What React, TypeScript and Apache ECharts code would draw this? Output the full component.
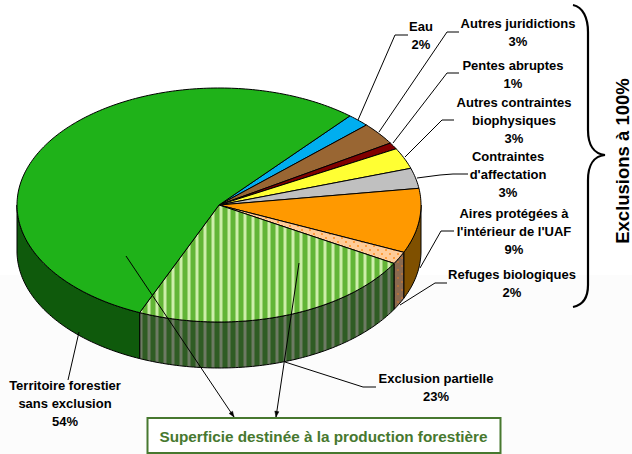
import React, { useEffect, useRef } from "react";
import * as echarts from "echarts";

// the printed labels are the rounded figures of the original.
const sliceNames = [
  "Eau",
  "Autres juridictions",
  "Pentes abruptes",
  "Autres contraintes biophysiques",
  "Contraintes d'affectation",
  "Aires protégées à l'intérieur de l'UAF",
  "Refuges biologiques",
  "Exclusion partielle",
  "Territoire forestier sans exclusion",
];
const sliceValues = [1.8, 3.1, 0.9, 2.9, 2.8, 8.9, 1.7, 23.1, 54.8];
const sliceLabels = [
  "Eau\n2%",
  "Autres juridictions\n3%",
  "Pentes abruptes\n1%",
  "Autres contraintes\nbiophysiques\n3%",
  "Contraintes\nd'affectation\n3%",
  "Aires protégées à\nl'intérieur de l'UAF\n9%",
  "Refuges biologiques\n2%",
  "Exclusion partielle\n23%",
  "Territoire forestier\nsans exclusion\n54%",
];
const boxTitle = "Superficie destinée à la production forestière";
const braceTitle = "Exclusions à 100%";

// Layout of labels and leaders, same order as the slices.
const labelCenters = [
  [421, 35], [518, 32], [513, 74.5], [514, 120.5], [508, 174.5], [514, 231.5], [512, 283.5], [436, 387.5], [65, 403],
];
const leaderPaths = [
  [[358, 120], [395, 35], [408, 35]],
  [[379, 132], [447, 32], [459, 32]],
  [[393, 143], [447, 73], [459, 73]],
  [[405, 157], [442, 120], [454, 120]],
  [[417, 178], [440, 175], [453, 174], [468, 174]],
  [[420, 268], [441, 231], [454, 231]],
  [[400, 305], [435, 283], [447, 283]],
  [[285, 362], [363, 387], [376, 387]],
  [[79, 332], [68, 380]],
];
const arrowPaths = [
  [[126, 256], [234, 417]],
  [[299, 263], [276, 417]],
];

const PIE = { cx: 219, cy: 205, rx: 202, ry: 117, depth: 46, start: 40.4 };

function patternCanvas(w: number, h: number, draw: (c: CanvasRenderingContext2D) => void) {
  const canvas = document.createElement("canvas");
  canvas.width = w;
  canvas.height = h;
  draw(canvas.getContext("2d") as CanvasRenderingContext2D);
  return { image: canvas, repeat: "repeat", imageWidth: w, imageHeight: h } as any;
}
function stripes(cols: string[]) {
  return patternCanvas(cols.length, 2, (c) => {
    cols.forEach((col, i) => {
      c.fillStyle = col;
      c.fillRect(i, 0, 1, 2);
    });
  });
}
function dots(base: string, dot: string) {
  return patternCanvas(8, 8, (c) => {
    c.fillStyle = base;
    c.fillRect(0, 0, 8, 8);
    c.fillStyle = dot;
    c.fillRect(1, 1, 2, 2);
    c.fillRect(5, 5, 2, 2);
  });
}

function point(deg: number, down = 0) {
  const t = (deg * Math.PI) / 180;
  return [PIE.cx + PIE.rx * Math.sin(t), PIE.cy - PIE.ry * Math.cos(t) + down];
}
function arc(from: number, to: number, down = 0) {
  const pts: number[][] = [];
  const n = Math.max(2, Math.ceil(Math.abs(to - from)));
  for (let i = 0; i <= n; i++) pts.push(point(from + ((to - from) * i) / n, down));
  return pts;
}

echarts.graphic.registerShape(
  "brace",
  echarts.graphic.extendPath(
    "M573 5C583 7 588 18 588 32L588 130C588 145 594 154 605 155C594 156 588 165 588 180L588 285C588 298 583 305 573 307",
    {}
  ) as any
);

export default function App() {
  const ref = useRef<HTMLDivElement>(null);
  useEffect(() => {
    document.body.style.margin = "0";
    const chart = echarts.init(ref.current as HTMLDivElement, undefined, { renderer: "svg" });

    const topFills: any[] = [
      "#00aeef",
      "#996633",
      "#800000",
      "#ffff33",
      "#c0c0c0",
      "#ff9900",
      dots("#ffcc99", "#ff9f40"),
      stripes(["#62b536", "#62b536", "#62b536", "#98d070", "#cdeeaa", "#cdeeaa", "#98d070", "#62b536"]),
      "#1fb219",
    ];
    const sideFills: any[] = [
      "#00577a",
      "#4d3319",
      "#400000",
      "#80801a",
      "#606060",
      "#7f5000",
      dots("#8a6a50", "#b0703c"),
      stripes(["#2f5c24", "#2f5c24", "#2f5c24", "#4e6b42", "#6d7a64", "#6d7a64", "#4e6b42", "#2f5c24"]),
      "#0f5a0c",
    ];

    const total = sliceValues.reduce((a, b) => a + b, 0);
    const renderItem = (params: any, api: any) => {
      const idx = params.dataIndex;
      let before = 0;
      for (let i = 0; i < idx; i++) before += sliceValues[i];
      const a0 = PIE.start + (before / total) * 360;
      const a1 = a0 + (api.value(0) / total) * 360;
      const line = { stroke: "#000", lineWidth: 1, lineJoin: "round" };
      const children: any[] = [];
      const s0 = Math.max(a0, 90);
      const s1 = Math.min(a1, 270);
      if (s1 > s0) {
        children.push({
          type: "polygon",
          shape: { points: [...arc(s0, s1), ...arc(s1, s0, PIE.depth)] },
          style: { fill: sideFills[idx], ...line },
        });
      }
      children.push({
        type: "polygon",
        shape: { points: [[PIE.cx, PIE.cy], ...arc(a0, a1)] },
        style: { fill: topFills[idx], ...line },
      });
      return { type: "group", children };
    };

    const text = (x: number, y: number, t: string, extra: any = {}) => ({
      type: "text",
      x,
      y,
      z: 20,
      style: {
        text: t,
        fill: "#000",
        font: "bold 13px 'Liberation Sans', Arial, sans-serif",
        lineHeight: 18,
        align: "center",
        verticalAlign: "middle",
        ...extra.style,
      },
      ...extra.el,
    });

    const leaders = [...leaderPaths, ...arrowPaths].map((pts) => ({
      type: "polyline",
      z: 15,
      shape: { points: pts },
      style: { stroke: "#000", lineWidth: 1, fill: "none" },
    }));
    const arrowHeads = arrowPaths.map(([a, b]) => {
      const ang = Math.atan2(b[1] - a[1], b[0] - a[0]);
      const wing = (d: number) => [b[0] - 6 * Math.cos(ang + d), b[1] - 6 * Math.sin(ang + d)];
      return {
        type: "polygon",
        z: 15,
        shape: { points: [b, wing(0.35), wing(-0.35)] },
        style: { fill: "#000", stroke: "#000", lineWidth: 0.5 },
      };
    });

    chart.setOption({
      animation: false,
      backgroundColor: "#ffffff",
      series: [
        {
          type: "custom",
          coordinateSystem: "none",
          silent: true,
          z: 5,
          renderItem,
          data: sliceValues.map((v, i) => ({ name: sliceNames[i], value: [v] })),
        },
      ],
      graphic: {
        elements: [
          { type: "rect", z: 0, shape: { x: 0, y: 275, width: 632, height: 179 }, style: { fill: "#fcfcfc" } },
          ...leaders,
          ...arrowHeads,
          ...sliceLabels.map((t, i) => text(labelCenters[i][0], labelCenters[i][1], t)),
          {
            type: "rect",
            z: 18,
            shape: { x: 147.5, y: 418, width: 353, height: 35 },
            style: { fill: "#ffffff", stroke: "#47782f", lineWidth: 2 },
          },
          text(323.5, 436, boxTitle, {
            style: { fill: "#47782f", font: "bold 15.3px 'Liberation Sans', Arial, sans-serif" },
          }),
          {
            type: "brace",
            z: 15,
            style: { fill: "none", stroke: "#000", lineWidth: 2.2 },
          },
          text(622, 161, braceTitle, {
            style: { font: "bold 18.5px 'Liberation Sans', Arial, sans-serif" },
            el: { rotation: Math.PI / 2 },
          }),
        ],
      },
    } as any);
    return () => chart.dispose();
  }, []);
  return <div ref={ref} style={{ width: 632, height: 454 }} />;
}
